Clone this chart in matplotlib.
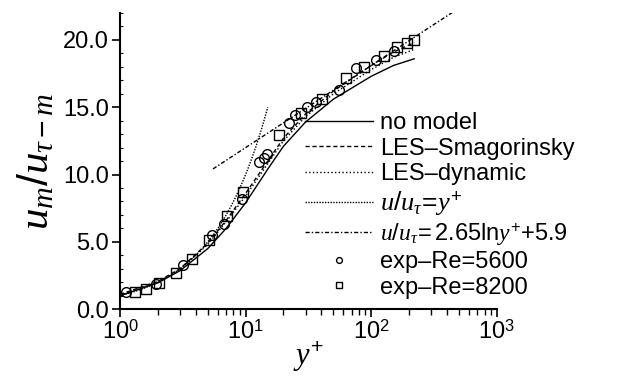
import numpy as np
import matplotlib
matplotlib.use('Agg')
import matplotlib.pyplot as plt
from matplotlib.ticker import MultipleLocator, LogLocator, NullFormatter

plt.rcParams['font.family'] = ['Liberation Sans', 'DejaVu Sans']
plt.rcParams['mathtext.fontset'] = 'custom'
plt.rcParams['mathtext.rm'] = 'Liberation Sans'
plt.rcParams['mathtext.it'] = 'Liberation Serif:italic'
plt.rcParams['mathtext.bf'] = 'Liberation Sans:bold'

# simulation curves
yplus_sim = [1, 2, 3, 5, 7, 10, 15, 20, 30, 50, 100, 150, 220]
u_nomodel = [1.0, 1.95, 2.85, 4.5, 6.0, 7.9, 10.4, 12.1, 13.9, 15.6, 17.3, 18.1, 18.6]
u_smag = [1.1, 2.05, 3.0, 4.9, 6.6, 8.6, 11.0, 12.7, 14.5, 16.2, 18.1, 19.1, 19.8]
u_dyn = [1.05, 2.0, 2.95, 4.8, 6.5, 8.4, 10.8, 12.5, 14.3, 16.0, 17.8, 18.7, 19.3]

# experiments
yplus_5600 = [1.12, 1.93, 3.16, 5.37, 6.7, 9.3, 12.7, 13.9, 14.9, 22.3, 24.5, 31, 36.6, 55.7, 76, 109, 152]
u_5600 = [1.25, 1.9, 3.3, 5.5, 6.3, 8.2, 10.9, 11.2, 11.5, 13.8, 14.4, 15.0, 15.4, 16.3, 17.9, 18.5, 19.2]
yplus_8200 = [1.32, 1.61, 2.04, 2.78, 3.73, 5.09, 7.07, 9.6, 18.6, 27.8, 40.9, 63, 88, 127, 160, 193, 218]
u_8200 = [1.25, 1.5, 1.95, 2.7, 3.7, 5.1, 6.9, 8.7, 12.9, 14.6, 15.6, 17.2, 18.0, 18.8, 19.5, 19.8, 20.0]

# wall laws
yplus_lin = np.logspace(0, np.log10(15), 50)
yplus_log = np.logspace(np.log10(5.5), np.log10(600), 50)

fig = plt.figure(figsize=(6.26, 3.77), dpi=100)
ax = fig.add_axes([0.1917, 0.180, 0.602, 0.7855])

ax.plot(yplus_sim, u_nomodel, 'k-', lw=1.0, label='no model')
ax.plot(yplus_sim, u_smag, 'k--', lw=1.0, dashes=(3, 2), label='LES\u2013Smagorinsky')
ax.plot(yplus_sim, u_dyn, 'k:', lw=1.0, label='LES\u2013dynamic')
ax.plot(yplus_lin, yplus_lin, color='k', lw=1.0, dashes=(1, 1), label=r'$u/u_{\tau}\!=\!y^{+}$')
ax.plot(yplus_log, 2.65 * np.log(yplus_log) + 5.9, color='k', lw=1.0, dashes=(3, 1.5, 1, 1.5),
        label=r'$u/u_{\tau}\!=$2.65ln$y^{+}$+5.9')
ax.plot(yplus_5600, u_5600, 'o', ms=7, mfc='none', mec='k', mew=1.0, label='exp\u2013Re=5600')
ax.plot(yplus_8200, u_8200, 's', ms=7, mfc='none', mec='k', mew=1.0, label='exp\u2013Re=8200')

ax.set_xscale('log')
ax.set_xlim(1, 1000)
ax.set_ylim(0, 22)
ax.spines['top'].set_visible(False)
ax.spines['right'].set_visible(False)
ax.spines['left'].set_linewidth(1.5)
ax.spines['bottom'].set_linewidth(1.5)

ax.set_xticks([1, 10, 100, 1000])
ax.set_xticklabels([r'10$^{0}$', r'10$^{1}$', r'10$^{2}$', r'10$^{3}$'])
ax.xaxis.set_minor_locator(LogLocator(base=10, subs=np.arange(2, 10), numticks=20))
ax.xaxis.set_minor_formatter(NullFormatter())
ax.set_yticks([0, 5, 10, 15, 20])
ax.set_yticklabels(['0.0', '5.0', '10.0', '15.0', '20.0'])
ax.yaxis.set_minor_locator(MultipleLocator(1))
ax.tick_params(axis='both', which='major', labelsize=17, length=6, width=1.2, direction='out', pad=2)
ax.tick_params(axis='x', which='minor', length=4, width=1.0, direction='out')
ax.tick_params(axis='y', which='minor', length=2, width=0.8, direction='in')

ax.set_xlabel(r'$y^{+}$', fontsize=22, labelpad=-3)
ax.set_ylabel(r'$u_m/u_{\tau-m}$', fontsize=31, labelpad=4)

leg = ax.legend(loc='upper left', bbox_to_anchor=(0.49, 0.665), frameon=False, fontsize=17,
                handlelength=2.9, handletextpad=0.3, labelspacing=0.15, borderaxespad=0,
                markerscale=0.6, borderpad=0)
texts = leg.get_texts()
texts[3].set_fontsize(19)
texts[4].set_fontsize(17)

fig.savefig('out.png', dpi=100)
